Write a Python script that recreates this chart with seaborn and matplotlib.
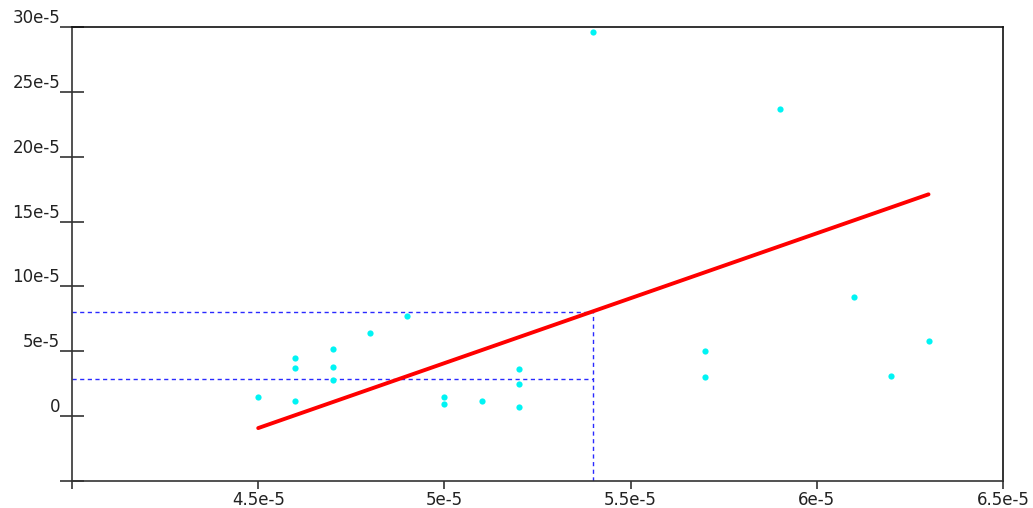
import numpy as np
import pandas as pd
import matplotlib
matplotlib.use("Agg")
import matplotlib.pyplot as plt
import seaborn as sns

x_obs = [4.5e-5, 4.6e-5, 4.6e-5, 4.6e-5, 4.7e-5, 4.7e-5, 4.7e-5, 4.8e-5, 4.9e-5,
         5.0e-5, 5.0e-5, 5.1e-5, 5.2e-5, 5.2e-5, 5.2e-5, 5.4e-5, 5.7e-5, 5.7e-5,
         5.9e-5, 6.1e-5, 6.2e-5, 6.3e-5]
y_obs = [1.5e-5, 4.5e-5, 3.7e-5, 1.15e-5, 5.2e-5, 3.8e-5, 2.8e-5, 6.4e-5, 7.7e-5,
         1.5e-5, 0.9e-5, 1.2e-5, 3.6e-5, 2.5e-5, 0.7e-5, 29.6e-5, 5.0e-5, 3.0e-5,
         23.7e-5, 9.2e-5, 3.1e-5, 5.8e-5]

# fitted line end points
fit_x = [4.5e-5, 6.3e-5]
fit_y = [-0.92e-5, 17.1e-5]

# guide lines: predicted value at x = 5.4e-5 and a second reference level
guide_x = 5.4e-5
guide_y_pred = 8.0e-5
guide_y_low = 2.9e-5

x_ticks = [4.0e-5, 4.5e-5, 5.0e-5, 5.5e-5, 6.0e-5, 6.5e-5]
x_labels = ["", "4.5e-5", "5e-5", "5.5e-5", "6e-5", "6.5e-5"]
y_ticks = [-5e-5, 0, 5e-5, 10e-5, 15e-5, 20e-5, 25e-5, 30e-5]
y_labels = ["", "0", "5e-5", "10e-5", "15e-5", "20e-5", "25e-5", "30e-5"]


def main():
    sns.set_style("white")
    plt.rcParams['font.family'] = ['DejaVu Sans']
    plt.rcParams['font.size'] = 12

    fig = plt.figure(figsize=(10.33, 5.08), dpi=100)
    ax = fig.add_axes([72 / 1033, 1 - 481 / 508, (1003 - 72) / 1033, (481 - 27) / 508])

    df = pd.DataFrame({'x': x_obs, 'y': y_obs})
    fit = pd.DataFrame({'x': fit_x, 'y': fit_y})

    # dashed guide lines
    guide = dict(color='#2a2aff', lw=1, dashes=(3, 2.5))
    ax.plot([x_ticks[0], guide_x], [guide_y_pred, guide_y_pred], **guide)
    ax.plot([x_ticks[0], guide_x], [guide_y_low, guide_y_low], **guide)
    ax.plot([guide_x, guide_x], [y_ticks[0], guide_y_pred], **guide)

    sns.lineplot(data=fit, x='x', y='y', ax=ax, color='#ff0000', lw=2.8)
    sns.scatterplot(data=df, x='x', y='y', ax=ax, color='#00f4f4', s=20,
                    linewidth=0, zorder=3)

    ax.set_xlim(x_ticks[0], x_ticks[-1])
    ax.set_ylim(y_ticks[0], y_ticks[-1])
    ax.set_xticks(x_ticks)
    ax.set_xticklabels(x_labels)
    ax.set_yticks(y_ticks)
    ax.set_yticklabels(y_labels)
    ax.set_xlabel('')
    ax.set_ylabel('')

    ax.tick_params(axis='y', left=True, direction='inout', length=17, width=1.2,
                   color='#333333', labelcolor='#222222', pad=0)
    ax.tick_params(axis='x', bottom=True, direction='out', length=5.5, width=1.2,
                   color='#333333', labelcolor='#222222', pad=1.5)
    for lab in ax.get_yticklabels():
        lab.set_va('bottom')

    for side in ['left', 'bottom']:
        ax.spines[side].set_color('#333333')
        ax.spines[side].set_linewidth(1.2)
    for side in ['top', 'right']:
        ax.spines[side].set_color('#111111')
        ax.spines[side].set_linewidth(1.2)

    fig.savefig('out.png', dpi=100)
    plt.close(fig)


if __name__ == "__main__":
    main()
